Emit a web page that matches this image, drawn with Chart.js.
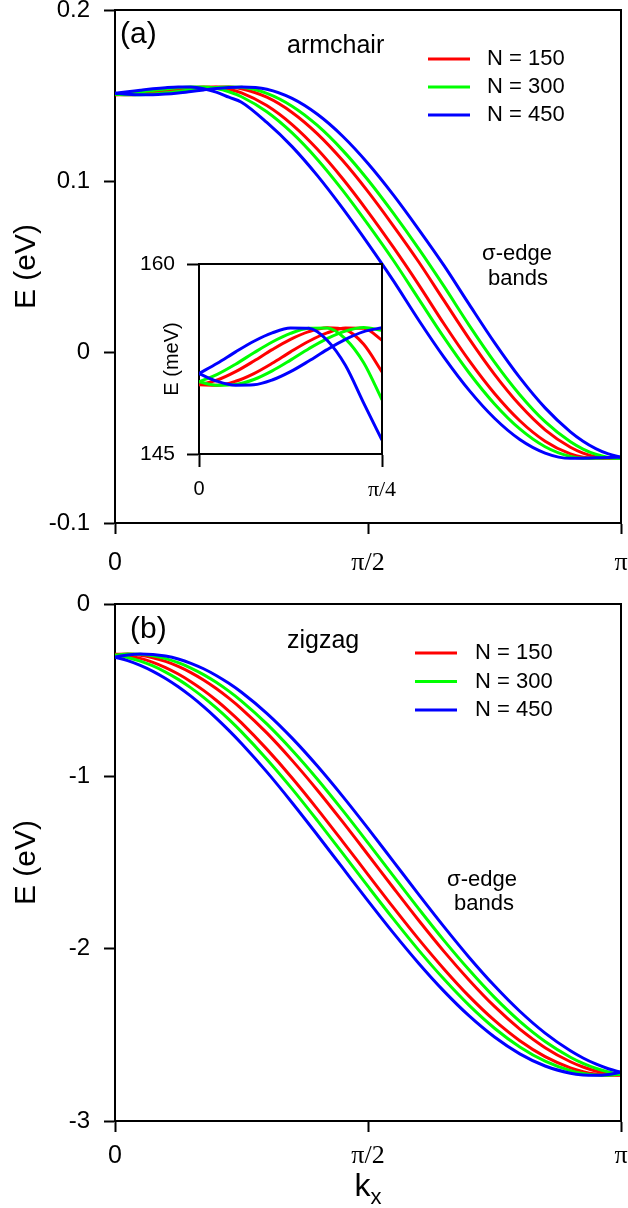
<!DOCTYPE html>
<html>
<head>
<meta charset="utf-8">
<script src="https://cdn.jsdelivr.net/npm/chart.js@4.4.0/dist/chart.umd.min.js"></script>
<style>
  html, body { margin: 0; padding: 0; background: #fff; }
  #wrap { position: relative; width: 628px; height: 1208px; overflow: hidden; }
  canvas { position: absolute; }
  #armchair { left: 0; top: 0; }
  #zigzag { left: 0; top: 594px; }
  #inset { left: 140px; top: 254px; }
</style>
</head>
<body>
<div id="wrap">
  <canvas id="armchair" width="628" height="594"></canvas>
  <canvas id="zigzag" width="628" height="614"></canvas>
  <canvas id="inset" width="290" height="260"></canvas>
</div>
<script>
// k_x sample points, in units of pi
const kx = [0, 0.025, 0.05, 0.075, 0.1, 0.125, 0.15, 0.175, 0.2, 0.225, 0.25, 0.3, 0.35, 0.4,
            0.45, 0.5, 0.55, 0.6, 0.65, 0.7, 0.75, 0.8, 0.85, 0.9, 0.925, 0.95, 0.975, 1];

// Armchair sigma-edge bands, E in eV. "lo" branch turns down first, "hi" is its partner.
const arm150lo = [0.15046, 0.15084, 0.15150, 0.15234, 0.15324, 0.15405, 0.15466, 0.15497, 0.15481, 0.15366,
                  0.15148, 0.14411, 0.13299, 0.11855, 0.10132, 0.08198, 0.06128, 0.03941, 0.01650, -0.00506,
                  -0.02424, -0.04019, -0.05216, -0.05962, -0.06152, -0.0622, -0.0620, -0.0619];
const arm150hi = [0.15046, 0.15043, 0.15074, 0.15135, 0.15216, 0.15306, 0.15390, 0.15456, 0.15494, 0.15492,
                  0.15398, 0.14901, 0.14010, 0.12759, 0.11196, 0.09380, 0.07382, 0.05279, 0.03015, 0.00766,
                  -0.01307, -0.03105, -0.04549, -0.05571, -0.05909, -0.06124, -0.06216, -0.0619];
const arm300lo = [0.15070, 0.15129, 0.15209, 0.15299, 0.15384, 0.15452, 0.15492, 0.15495, 0.15409, 0.15220,
                  0.14928, 0.14052, 0.12814, 0.11264, 0.09456, 0.07464, 0.05364, 0.03107, 0.00853, -0.01228,
                  -0.03039, -0.04498, -0.05539, -0.06111, -0.0621, -0.0621, -0.0620, -0.0622];
const arm300hi = [0.15070, 0.15042, 0.15048, 0.15088, 0.15156, 0.15241, 0.15331, 0.15411, 0.15470, 0.15498,
                  0.15476, 0.15126, 0.14374, 0.13247, 0.11791, 0.10058, 0.08117, 0.06043, 0.03848, 0.01560,
                  -0.00588, -0.02495, -0.04075, -0.05255, -0.05677, -0.05981, -0.06162, -0.0622];
const arm450lo = [0.15135, 0.15216, 0.15306, 0.15390, 0.15456, 0.15494, 0.15492, 0.15398, 0.15200, 0.14901,
                  0.14610, 0.13426, 0.12012, 0.10314, 0.08399, 0.06339, 0.04174, 0.01874, -0.00299, -0.02246,
                  -0.03876, -0.05117, -0.05909, -0.0622, -0.0621, -0.0619, -0.0617, -0.06152];
const arm450hi = [0.15135, 0.15074, 0.15043, 0.15046, 0.15084, 0.15150, 0.15234, 0.15324, 0.15405, 0.15466,
                  0.15497, 0.15366, 0.14829, 0.13900, 0.12616, 0.11023, 0.09188, 0.07175, 0.05066, 0.02785,
                  0.00549, -0.01500, -0.03267, -0.04670, -0.05216, -0.05647, -0.05962, -0.06152];

// Zigzag sigma-edge bands, E in eV
const zig150lo = [-0.2914, -0.2997, -0.3154, -0.3386, -0.3689, -0.4064, -0.4506, -0.5014, -0.5584, -0.6213,
                  -0.6897, -0.8422, -1.0094, -1.1899, -1.3784, -1.5701, -1.7604, -1.9446, -2.1176, -2.2769,
                  -2.4167, -2.5343, -2.6267, -2.6917, -2.7133, -2.7276, -2.7344, -2.7336];
const zig150hi = [-0.2914, -0.2906, -0.2974, -0.3117, -0.3333, -0.3623, -0.3983, -0.4412, -0.4907, -0.5465,
                  -0.6083, -0.7481, -0.9074, -1.0804, -1.2646, -1.4549, -1.6466, -1.8351, -2.0156, -2.1828,
                  -2.3353, -2.4666, -2.5744, -2.6561, -2.6865, -2.7096, -2.7253, -2.7336];
const zig300lo = [-0.2966, -0.3102, -0.3313, -0.3597, -0.3952, -0.4375, -0.4866, -0.5419, -0.6032, -0.6698,
                  -0.7422, -0.9007, -1.0729, -1.2571, -1.4472, -1.6390, -1.8275, -2.0084, -2.1765, -2.3292,
                  -2.4617, -2.5703, -2.6530, -2.7080, -2.7244, -2.7333, -2.7346, -2.7284];
const zig300hi = [-0.2966, -0.2904, -0.2918, -0.3006, -0.3170, -0.3407, -0.3716, -0.4097, -0.4544, -0.5058,
                  -0.5633, -0.6958, -0.8485, -1.0166, -1.1975, -1.3860, -1.5778, -1.7679, -1.9521, -2.1243,
                  -2.2828, -2.4218, -2.5385, -2.6298, -2.6653, -2.6937, -2.7148, -2.7284];
const zig450lo = [-0.3082, -0.3284, -0.3559, -0.3906, -0.4321, -0.4803, -0.5349, -0.5955, -0.6618, -0.7333,
                  -0.8095, -0.9742, -1.1530, -1.3403, -1.5317, -1.7227, -1.9085, -2.0845, -2.2465, -2.3904,
                  -2.5127, -2.6103, -2.6810, -2.7228, -2.7326, -2.7349, -2.7296, -2.7168];
const zig450hi = [-0.3082, -0.2954, -0.2902, -0.2924, -0.3022, -0.3194, -0.3440, -0.3758, -0.4147, -0.4603,
                  -0.5123, -0.6346, -0.7785, -0.9405, -1.1165, -1.3023, -1.4933, -1.6848, -1.8720, -2.0508,
                  -2.2155, -2.3633, -2.4901, -2.5929, -2.6345, -2.6691, -2.6966, -2.7168];

const legendText = ['N = 150', 'N = 300', 'N = 450'];
const bandColors = ['#ff0000', '#00ff00', '#0000ff'];

const kTicks = [0, 0.5, 1];
const kTickText = ['0', '\u03c0/2', '\u03c0'];
const armTicks = [-0.1, 0, 0.1, 0.2];
const armTickText = ['-0.1', '0', '0.1', '0.2'];
const zigTicks = [-3, -2, -1, 0];
const zigTickText = ['-3', '-2', '-1', '0'];
const insetKTicks = [0, 0.25];
const insetKTickText = ['0', '\u03c0/4'];
const insetETicks = [145, 160];
const insetETickText = ['145', '160'];
const insetPoints = 11;   // samples up to k = pi/4

const SANS = "'Liberation Sans', Arial, sans-serif";
const SERIF = "'Liberation Serif', 'Times New Roman', serif";
Chart.defaults.font.family = SANS;
Chart.defaults.color = '#000';

function points(vals, n, factor) {
  return kx.slice(0, n).map((k, i) => ({ x: k, y: vals[i] * factor }));
}

// blue first so that it is painted on top
function bandSets(pairs, n, factor) {
  const sets = [];
  for (let i = pairs.length - 1; i >= 0; i--) {
    pairs[i].forEach(vals => sets.push({
      label: legendText[i],
      data: points(vals, n, factor),
      borderColor: bandColors[i],
      borderWidth: 3,
      pointRadius: 0,
      fill: false,
      cubicInterpolationMode: 'monotone'
    }));
  }
  return sets;
}

function xAxis(ticks, texts, o) {
  return {
    type: 'linear', position: 'bottom',
    min: ticks[0], max: ticks[ticks.length - 1],
    afterBuildTicks: s => { s.ticks = ticks.map(v => ({ value: v })); },
    afterFit: s => { s.height = o.height; s.paddingLeft = 0; s.paddingRight = 0; },
    ticks: {
      autoSkip: false, maxRotation: 0, minRotation: 0, padding: o.pad, color: '#000',
      callback: (v, i) => texts[i],
      font: c => (/\u03c0/.test(texts[c.index] || '')
        ? { family: SERIF, size: o.serifSize, lineHeight: 1.2 }
        : { family: SANS, size: o.size, lineHeight: 1.2 })
    },
    grid: { drawOnChartArea: false, drawTicks: true, tickLength: o.tick, tickWidth: 2, tickColor: '#000', color: '#000' },
    border: { display: true, color: '#000', width: 2 }
  };
}

function yAxis(ticks, texts, o) {
  return {
    type: 'linear', position: 'left',
    min: ticks[0], max: ticks[ticks.length - 1],
    afterBuildTicks: s => { s.ticks = ticks.map(v => ({ value: v })); },
    afterFit: s => { s.width = o.width; s.paddingTop = 0; s.paddingBottom = 0; },
    ticks: {
      autoSkip: false, padding: o.pad, color: '#000',
      callback: (v, i) => texts[i],
      font: { family: SANS, size: o.size }
    },
    grid: { drawOnChartArea: false, drawTicks: true, tickLength: o.tick, tickWidth: 2, tickColor: '#000', color: '#000' },
    border: { display: true, color: '#000', width: 2 },
    title: { display: true, text: o.title, color: '#000', font: { family: SANS, size: o.titleSize }, padding: { top: o.titlePad, bottom: 0 } }
  };
}

// closes the plot box with top and right edges
const frame = {
  id: 'frame',
  afterDatasetsDraw(chart) {
    const { ctx, chartArea: a } = chart;
    ctx.save();
    ctx.strokeStyle = '#000';
    ctx.lineWidth = 2;
    ctx.beginPath();
    ctx.moveTo(a.left, a.top);
    ctx.lineTo(a.right, a.top);
    ctx.lineTo(a.right, a.bottom);
    ctx.stroke();
    ctx.restore();
  }
};

function annotations(items, legend) {
  return {
    id: 'annotations',
    afterDraw(chart) {
      const ctx = chart.ctx;
      ctx.save();
      ctx.fillStyle = '#000';
      items.forEach(t => {
        ctx.font = t.size + 'px ' + SANS;
        ctx.textAlign = t.align || 'left';
        ctx.textBaseline = 'alphabetic';
        ctx.fillText(t.text, t.x, t.y);
      });
      legendText.forEach((txt, i) => {
        const y = legend.y + i * legend.gap;
        ctx.strokeStyle = bandColors[i];
        ctx.lineWidth = 3;
        ctx.beginPath();
        ctx.moveTo(legend.x, y);
        ctx.lineTo(legend.x + legend.len, y);
        ctx.stroke();
        ctx.font = legend.size + 'px ' + SANS;
        ctx.textAlign = 'left';
        ctx.textBaseline = 'middle';
        ctx.fillText(txt, legend.textX, y);
      });
      ctx.restore();
    }
  };
}

const kxTitle = {
  id: 'kxTitle',
  afterDraw(chart) {
    const ctx = chart.ctx;
    const cx = (chart.chartArea.left + chart.chartArea.right) / 2;
    ctx.save();
    ctx.fillStyle = '#000';
    ctx.textBaseline = 'alphabetic';
    ctx.font = '32px ' + SANS;
    const wk = ctx.measureText('k').width;
    ctx.font = '22px ' + SANS;
    const wx = ctx.measureText('x').width;
    const x0 = cx - (wk + wx) / 2;
    ctx.font = '32px ' + SANS;
    ctx.textAlign = 'left';
    ctx.fillText('k', x0, 602);
    ctx.font = '22px ' + SANS;
    ctx.fillText('x', x0 + wk, 610);
    ctx.restore();
  }
};

const common = { responsive: false, animation: false, events: [],
  plugins: { legend: { display: false }, tooltip: { enabled: false } } };

new Chart(document.getElementById('armchair'), {
  type: 'line',
  data: { datasets: bandSets([[arm150lo, arm150hi], [arm300lo, arm300hi], [arm450lo, arm450hi]], kx.length, 1) },
  options: Object.assign({}, common, {
    layout: { padding: { top: 10, right: 7, left: 0, bottom: 0 } },
    scales: {
      x: xAxis(kTicks, kTickText, { height: 71, pad: 14, size: 25, serifSize: 26, tick: 11 }),
      y: yAxis(armTicks, armTickText, { width: 115, pad: 14, size: 24, tick: 11, title: 'E (eV)', titleSize: 30, titlePad: 9 })
    }
  }),
  plugins: [frame, annotations([
    { text: '(a)', x: 120, y: 43, size: 30 },
    { text: 'armchair', x: 287, y: 53, size: 25 },
    { text: '\u03c3-edge', x: 517, y: 260, size: 22, align: 'center' },
    { text: 'bands', x: 518, y: 285, size: 22, align: 'center' }
  ], { x: 428, len: 42, textX: 487, y: 59, gap: 28, size: 22 })]
});

new Chart(document.getElementById('zigzag'), {
  type: 'line',
  data: { datasets: bandSets([[zig150lo, zig150hi], [zig300lo, zig300hi], [zig450lo, zig450hi]], kx.length, 1) },
  options: Object.assign({}, common, {
    layout: { padding: { top: 10, right: 7, left: 0, bottom: 0 } },
    scales: {
      x: xAxis(kTicks, kTickText, { height: 87, pad: 9, size: 25, serifSize: 26, tick: 11 }),
      y: yAxis(zigTicks, zigTickText, { width: 115, pad: 14, size: 24, tick: 11, title: 'E (eV)', titleSize: 30, titlePad: 9 })
    }
  }),
  plugins: [frame, kxTitle, annotations([
    { text: '(b)', x: 130, y: 44, size: 30 },
    { text: 'zigzag', x: 287, y: 54, size: 25 },
    { text: '\u03c3-edge', x: 482, y: 292, size: 22, align: 'center' },
    { text: 'bands', x: 484, y: 316, size: 22, align: 'center' }
  ], { x: 415, len: 42, textX: 475, y: 59, gap: 28.5, size: 22 })]
});

new Chart(document.getElementById('inset'), {
  type: 'line',
  data: { datasets: bandSets([[arm150lo, arm150hi], [arm300lo, arm300hi], [arm450lo, arm450hi]], insetPoints, 1000) },
  options: Object.assign({}, common, {
    layout: { padding: { top: 10, right: 48, left: 0, bottom: 0 } },
    scales: {
      x: xAxis(insetKTicks, insetKTickText, { height: 60, pad: 10, size: 20, serifSize: 22, tick: 13 }),
      y: yAxis(insetETicks, insetETickText, { width: 59, pad: 12, size: 21, tick: 12, title: 'E (meV)', titleSize: 20, titlePad: 20 })
    }
  }),
  plugins: [frame]
});
</script>
</body>
</html>
